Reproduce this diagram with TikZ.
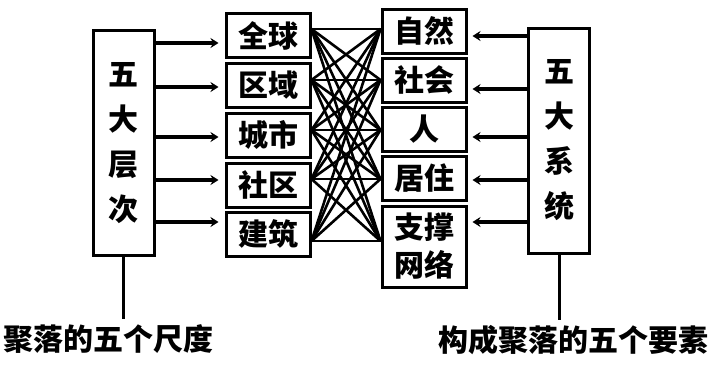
\documentclass[tikz,border=0pt]{standalone}
\usepackage{fontspec}
\setmainfont{Noto Sans CJK SC}[BoldFont={Noto Sans CJK SC Black}]
\usetikzlibrary{arrows.meta,calc}
\tikzset{
  tallbox/.style={draw,line width=3pt,minimum width=61pt,minimum height=225pt,inner sep=0pt,align=center,font=\bfseries\fontsize{30}{45}\selectfont},
  cellbox/.style={draw,line width=3pt,minimum width=84pt,minimum height=44pt,inner sep=0pt,align=center,font=\bfseries\fontsize{30}{38}\selectfont},
  harr/.style={-{Stealth[length=8pt,width=10pt]},line width=3.2pt,draw=black},
  hline/.style={line width=3pt,draw=black},
  hlink/.style={line width=2.6pt,draw=black},
  caption/.style={font=\bfseries\fontsize{30}{36}\selectfont,inner sep=0pt}
}
\begin{document}
\begin{tikzpicture}[x=1pt,y=-1pt]
  \useasboundingbox (0,0) rectangle (718,368);
  % the two frames
  \node[tallbox] (lv) at (123.5,143) {五\\大\\层\\次};
  \node[tallbox] (rv) at (559,140.5) {五\\大\\系\\统};
  % scales
  \node[cellbox] (l1) at (268,35.5) {全球};
  \node[cellbox] (l2) at (268,85.5) {区域};
  \node[cellbox] (l3) at (268,135) {城市};
  \node[cellbox] (l4) at (268,185) {社区};
  \node[cellbox] (l5) at (268,234) {建筑};
  % elements
  \node[cellbox] (r1) at (424,31) {自然};
  \node[cellbox] (r2) at (424,80) {社会};
  \node[cellbox] (r3) at (424,129.5) {人};
  \node[cellbox] (r4) at (424,178.5) {居住};
  \node[cellbox,minimum height=81pt] (r5) at (424,246.5) {支撑\\网络};
  % captions
  \node[caption] (lcap) at (108.5,339) {聚落的五个尺度};
  \node[caption] (rcap) at (573,340) {构成聚落的五个要素};
  % rows of the links and arrows
  \coordinate (k1) at (0,29);
  \coordinate (k2) at (0,80);
  \coordinate (k3) at (0,130);
  \coordinate (k4) at (0,179);
  \coordinate (k5) at (0,241);
  \coordinate (la1) at (0,43);
  \coordinate (la2) at (0,87);
  \coordinate (la3) at (0,137);
  \coordinate (la4) at (0,180);
  \coordinate (la5) at (0,222);
  \coordinate (ra1) at (0,36);
  \coordinate (ra2) at (0,89);
  \coordinate (ra3) at (0,137);
  \coordinate (ra4) at (0,180);
  \coordinate (ra5) at (0,222);
  % every scale to every element
  \foreach \i in {1,...,5}
    \foreach \j in {1,...,5}
      \draw[hlink] (l\i.east |- k\i) -- (r\j.west |- k\j);
  % arrows
  \foreach \i in {1,...,5} {
    \draw[harr,shorten >=6pt] (lv.east |- la\i) -- (l\i.west |- la\i);
    \draw[harr,shorten >=5pt] (rv.west |- ra\i) -- (r\i.east |- ra\i);
  }
  % to the captions
  \draw[hline] (lv.south) -- ([yshift=5pt]lv.south |- lcap.north);
  \draw[hline] (rv.south) -- ([yshift=5pt]rv.south |- rcap.north);
\end{tikzpicture}
\end{document}
